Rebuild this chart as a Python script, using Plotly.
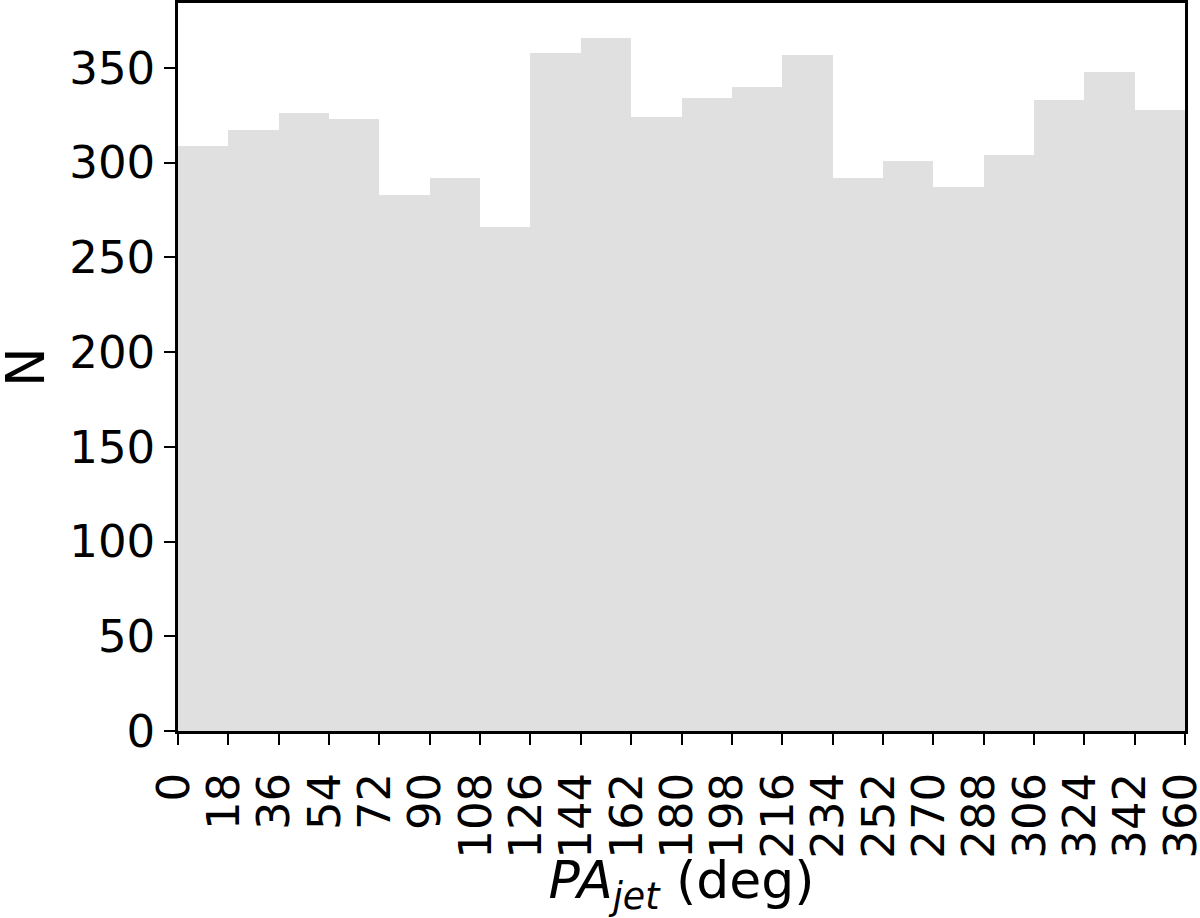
import plotly.graph_objects as go

# Histogram of jet position angles: 20 bins of 18 deg
bin_edges = [0, 18, 36, 54, 72, 90, 108, 126, 144, 162, 180,
             198, 216, 234, 252, 270, 288, 306, 324, 342, 360]
counts = [309, 317, 326, 323, 283, 292, 266, 358, 366, 324,
          334, 340, 357, 292, 301, 287, 304, 333, 348, 328]
y_ticks = [0, 50, 100, 150, 200, 250, 300, 350]

centers = [(a + b) / 2 for a, b in zip(bin_edges[:-1], bin_edges[1:])]
widths = [b - a for a, b in zip(bin_edges[:-1], bin_edges[1:])]

fig = go.Figure()
fig.add_trace(go.Bar(
    x=centers, y=counts, width=widths,
    marker=dict(color="#e0e0e0", line=dict(width=0)),
    hoverinfo="x+y",
))

font_family = "DejaVu Sans"
fig.update_layout(
    width=1200, height=918,
    margin=dict(l=178, r=15, t=3, b=187),
    paper_bgcolor="white", plot_bgcolor="white",
    bargap=0, showlegend=False,
    font=dict(family=font_family, color="black"),
)
fig.update_xaxes(
    range=[0, 360], automargin=False,
    tickmode="array", tickvals=bin_edges, ticktext=[str(v) for v in bin_edges],
    tickangle=-90, ticklabeloverflow="allow",
    tickfont=dict(size=45, family=font_family, color="black"),
    ticks="outside", ticklen=11, tickwidth=2, tickcolor="black",
    ticklabelstandoff=10, ticklabelshift=-4,
    showline=True, linecolor="black", linewidth=2.5, mirror=True,
    showgrid=False, zeroline=False,
    title=dict(text="<i>PA</i><sub><i>jet</i></sub> (deg)",
               font=dict(size=52, family=font_family, color="black"),
               standoff=0),
)
fig.update_yaxes(
    range=[0, 384.3], automargin=False,
    tickmode="array", tickvals=y_ticks, ticktext=[str(v) for v in y_ticks],
    tickfont=dict(size=45, family=font_family, color="black"),
    ticks="outside", ticklen=11, tickwidth=2, tickcolor="black",
    showline=True, linecolor="black", linewidth=2.5, mirror=True,
    showgrid=False, zeroline=False,
)
# y-axis title "N", placed as a rotated annotation left of the tick labels
fig.add_annotation(
    text="N", xref="paper", yref="paper", x=-0.152, y=0.5,
    xanchor="center", yanchor="middle", textangle=-90, showarrow=False,
    font=dict(size=53, family=font_family, color="black"),
)

fig.write_html("out.html", config={"displayModeBar": False},
               post_script="document.body.style.margin='0';")
